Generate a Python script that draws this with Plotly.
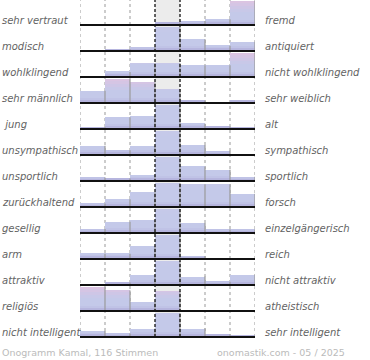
import plotly.graph_objects as go
import numpy as np

left_labels = ["sehr vertraut", "modisch", "wohlklingend", "sehr männlich", " jung",
               "unsympathisch", "unsportlich", "zurückhaltend", "gesellig", "arm",
               "attraktiv", "religiös", "nicht intelligent"]
right_labels = ["fremd", "antiquiert", "nicht wohlklingend", "sehr weiblich", "alt",
                "sympathisch", "sportlich", "forsch", "einzelgängerisch", "reich",
                "nicht attraktiv", "atheistisch", "sehr intelligent"]
# relative bar heights per row (7 scale steps, row maximum = 100)
shares = [
    [0, 0, 0, 10, 17, 24, 100],
    [0, 7, 18, 100, 49, 22, 39],
    [0, 21, 57, 57, 49, 49, 100],
    [51, 100, 85, 58, 10, 0, 10],
    [7, 49, 55, 100, 22, 10, 8],
    [39, 20, 39, 100, 42, 18, 4],
    [15, 10, 24, 100, 60, 47, 18],
    [15, 32, 61, 100, 95, 95, 55],
    [17, 47, 53, 100, 42, 15, 15],
    [22, 22, 55, 100, 12, 0, 0],
    [0, 10, 43, 100, 35, 14, 43],
    [100, 85, 39, 82, 4, 0, 4],
    [25, 15, 35, 100, 35, 11, 7],
]
footer_left = "Onogramm Kamal, 116 Stimmen"
footer_right = "onomastik.com - 05 / 2025"

W, H = 370, 360
ROW = 26.0
n_rows = len(shares)
n_cols = 7
baselines = [-(25 + ROW * i) / ROW for i in range(n_rows)]
scale = (24 / ROW) / 100.0

band_edges = [0, 6, 11, 20, 55, 68, 80, 90, 100]
pink_colors = ["#a8a2d0", "#b6b5de", "#c0c3e6", "#c4c9e9", "#c8c8e8",
               "#cec6e6", "#d5c5e4", "#dbc4e2"]
blue_colors = ["#a8a2d0", "#b6b5de", "#c0c3e6", "#c4c9e9", "#c4c9e9",
               "#c4c9e9", "#c5c9e9", "#c6c9e9"]

fig = go.Figure()

for k in range(len(band_edges) - 1):
    lo, hi = band_edges[k], band_edges[k + 1]
    for palette_name, palette in (("pink", pink_colors), ("blue", blue_colors)):
        bx, bb, bh = [], [], []
        for r, row in enumerate(shares):
            center_max = row[3] >= max(row)
            if (palette_name == "blue") != center_max:
                continue
            for c, v in enumerate(row):
                seg = min(max(v - lo, 0), hi - lo)
                if seg > 0:
                    bx.append(c)
                    bb.append(baselines[r] + lo * scale)
                    bh.append(seg * scale)
        if bx:
            fig.add_trace(go.Bar(x=bx, y=bh, base=bb, width=1.0,
                                 marker=dict(color=palette[k], line=dict(width=0)),
                                 hoverinfo="skip", showlegend=False))

# right-edge shading of bars
ex, ey = [], []
for r, row in enumerate(shares):
    for c, v in enumerate(row):
        if v > 0:
            ex += [c + 0.5, c + 0.5, None]
            ey += [baselines[r], baselines[r] + v * scale, None]
fig.add_trace(go.Scatter(x=ex, y=ey, mode="lines",
                         line=dict(color="#9a9a9a", width=1.2),
                         hoverinfo="skip", showlegend=False))

shapes = []
bottom = baselines[-1]
shapes.append(dict(type="rect", xref="x", yref="y", x0=2.5, x1=3.5, y0=bottom, y1=0,
                   fillcolor="#ececec", line=dict(width=0), layer="below"))
for xb in [-0.5, 0.5, 1.5, 4.5, 5.5, 6.5]:
    shapes.append(dict(type="line", xref="x", yref="y", x0=xb, x1=xb, y0=bottom, y1=0,
                       line=dict(color="#999999", width=1, dash="dot"), layer="below"))
for xb in [2.5, 3.5]:
    shapes.append(dict(type="line", xref="x", yref="y", x0=xb, x1=xb, y0=bottom, y1=0,
                       line=dict(color="#111111", width=1.3, dash="3px,2px"), layer="above"))
for b in baselines:
    shapes.append(dict(type="line", xref="x", yref="y", x0=-0.5, x1=6.5, y0=b, y1=b,
                       line=dict(color="#111111", width=2), layer="above"))

annotations = []
font_lab = dict(family="DejaVu Sans", size=10, color="#636363")
for i in range(n_rows):
    ty = baselines[i] + 5 / ROW
    annotations.append(dict(text="<i>" + left_labels[i] + "</i>", xref="paper", yref="y",
                            x=0 / W, y=ty, xanchor="left", yanchor="middle",
                            showarrow=False, font=font_lab))
    annotations.append(dict(text="<i>" + right_labels[i] + "</i>", xref="paper", yref="y",
                            x=263 / W, y=ty, xanchor="left", yanchor="middle",
                            showarrow=False, font=font_lab))
font_foot = dict(family="DejaVu Sans", size=9.5, color="#bbbbbb")
annotations.append(dict(text=footer_left, xref="paper", yref="paper", x=0, y=1 - 352 / H,
                        xanchor="left", yanchor="middle", showarrow=False, font=font_foot))
annotations.append(dict(text=footer_right, xref="paper", yref="paper", x=347 / W, y=1 - 352 / H,
                        xanchor="right", yanchor="middle", showarrow=False, font=font_foot))

fig.update_layout(
    width=W, height=H,
    margin=dict(l=0, r=0, t=0, b=0),
    paper_bgcolor="white", plot_bgcolor="rgba(0,0,0,0)",
    barmode="overlay", bargap=0,
    xaxis=dict(domain=[80 / W, 255 / W], range=[-0.5, 6.5], visible=False, fixedrange=True),
    yaxis=dict(domain=[0, 1], range=[-H / ROW, 0], visible=False, fixedrange=True),
    shapes=shapes, annotations=annotations,
    showlegend=False,
)

fig.write_html("out.html", config={"displayModeBar": False},
               post_script="document.body.style.margin='0px';document.body.style.padding='0px';")
